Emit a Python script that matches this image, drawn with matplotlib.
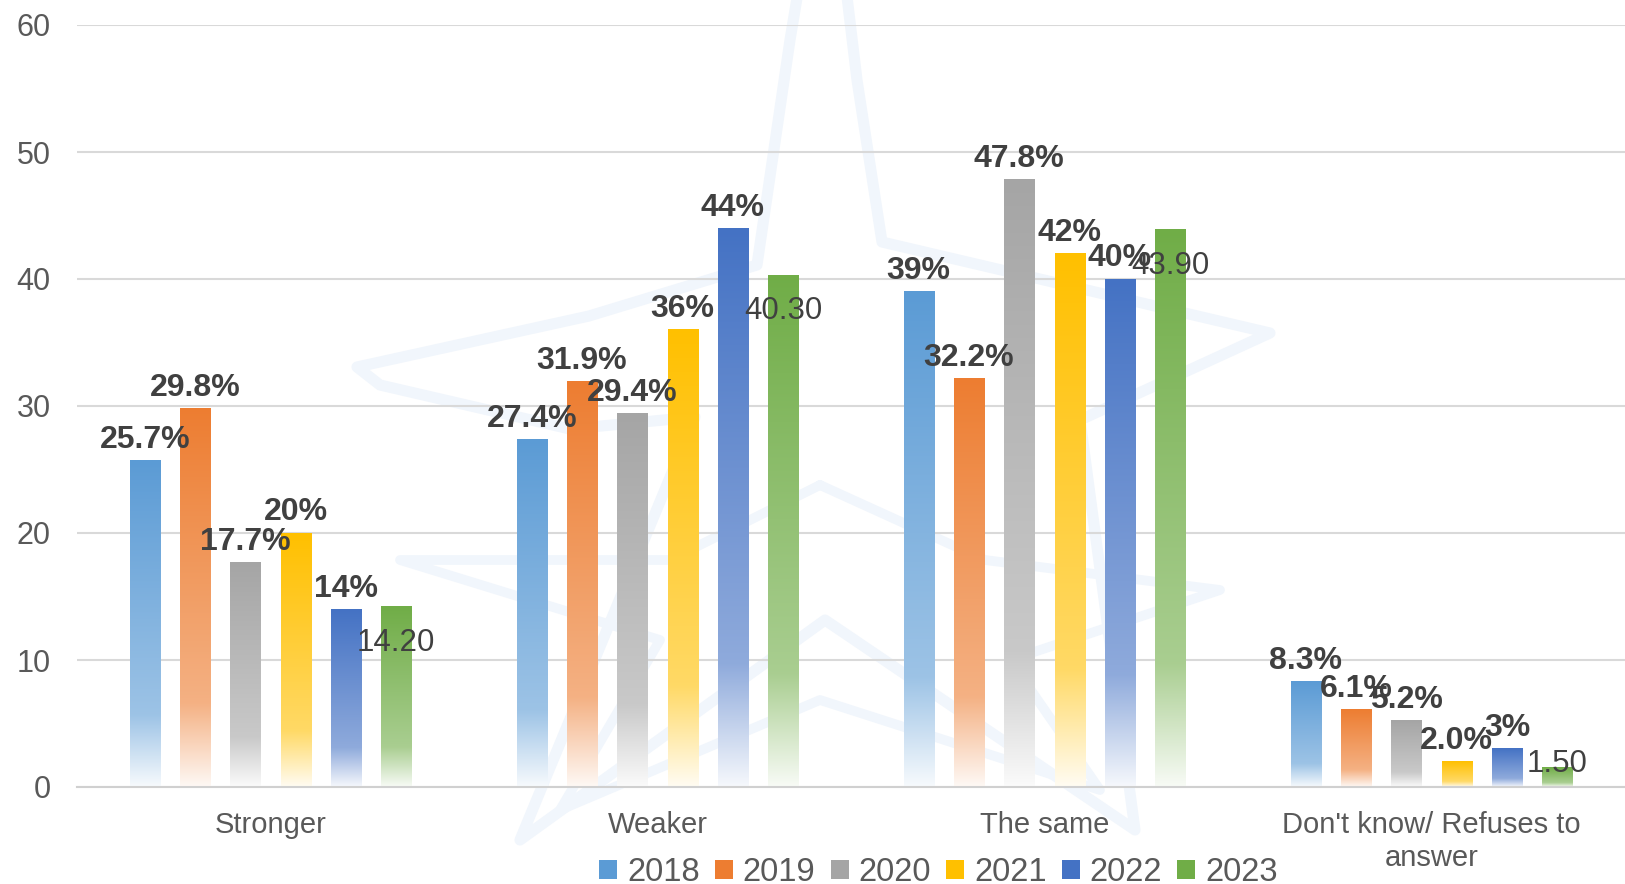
import numpy as np
import matplotlib
matplotlib.use('Agg')
from matplotlib import pyplot as plt
from matplotlib.colors import to_rgb
from matplotlib.patches import Patch

plt.rcParams['font.family'] = ['Liberation Sans', 'DejaVu Sans']

categories = ['Stronger', 'Weaker', 'The same', "Don't know/ Refuses to\nanswer"]
years = ['2018', '2019', '2020', '2021', '2022', '2023']
values = {
    '2018': [25.7, 27.4, 39.0, 8.3],
    '2019': [29.8, 31.9, 32.2, 6.1],
    '2020': [17.7, 29.4, 47.8, 5.2],
    '2021': [20.0, 36.0, 42.0, 2.0],
    '2022': [14.0, 44.0, 40.0, 3.0],
    '2023': [14.2, 40.3, 43.9, 1.5],
}
labels = {
    '2018': ['25.7%', '27.4%', '39%', '8.3%'],
    '2019': ['29.8%', '31.9%', '32.2%', '6.1%'],
    '2020': ['17.7%', '29.4%', '47.8%', '5.2%'],
    '2021': ['20%', '36%', '42%', '2.0%'],
    '2022': ['14%', '44%', '40%', '3%'],
    '2023': ['14.20', '40.30', '43.90', '1.50'],
}
colors = ['#5B9BD5', '#ED7D31', '#A5A5A5', '#FFC000', '#4472C4', '#70AD47']


def gradient(color, n=256):
    # t = 0 at top of bar, 1 at bottom
    t = 1 - np.linspace(0, 1, n)
    w = np.where(t < 0.78, 0.4 * t / 0.78, 0.4 + 0.55 * (t - 0.78) / 0.22)
    c = np.array(to_rgb(color))
    img = c[None, :] * (1 - w[:, None]) + w[:, None]
    return img[:, None, :]


fig = plt.figure(figsize=(16.25, 8.84), dpi=100)

# faint hand-drawn star watermark behind the chart
star_x = [800, 790, 757, 589, 357, 380, 570, 695, 520, 825, 1135, 1080, 1270, 882, 857, 845]
star_y = [-20, 40, 265, 316, 367, 385, 429, 417, 840, 620, 830, 420, 333, 242, 80, -20]
fig.add_artist(plt.Line2D(np.array(star_x) / 1625, 1 - np.array(star_y) / 884,
                          color='#F1F6FC', lw=8, solid_joinstyle='round',
                          solid_capstyle='round', zorder=0))
inner_x = [820, 985, 1220, 1010, 1100, 820, 560, 660, 400, 670, 820]
inner_y = [485, 560, 590, 660, 790, 700, 810, 640, 560, 560, 485]
fig.add_artist(plt.Line2D(np.array(inner_x) / 1625, 1 - np.array(inner_y) / 884,
                          color='#F1F6FC', lw=7, solid_joinstyle='round',
                          solid_capstyle='round', zorder=0))

ax = fig.add_axes([77 / 1625, 97 / 884, 1548 / 1625, 762 / 884])
ax.patch.set_alpha(0)

x = np.arange(len(categories))
width = 0.078
step = 0.130

for i, (yr, col) in enumerate(zip(years, colors)):
    pos = x + (i - 2.5) * step
    bars = ax.bar(pos, values[yr], width, color='none', edgecolor='none')
    grad = gradient(col)
    for b, lab in zip(bars, labels[yr]):
        x0, h = b.get_x(), b.get_height()
        ax.imshow(grad, extent=(x0, x0 + b.get_width(), 0, h), origin='lower',
                  aspect='auto', zorder=2, interpolation='bilinear')
        cx = x0 + b.get_width() / 2
        if yr == '2023':
            if h < 5:
                ax.annotate(lab, (cx, h), xytext=(0, -3), textcoords='offset points',
                            ha='center', va='baseline', fontsize=22.5, color='#404040', zorder=4)
            else:
                ax.annotate(lab, (cx, h), xytext=(0, -26), textcoords='offset points',
                            ha='center', va='center', fontsize=22.5, color='#404040', zorder=4)
        else:
            ax.annotate(lab, (cx, h), xytext=(0, 9), textcoords='offset points',
                        ha='center', va='baseline', fontsize=23, fontweight='bold',
                        color='#404040', zorder=4)

ax.set_xlim(-0.5, 3.5)
ax.set_ylim(0, 60)
ax.set_yticks(range(0, 61, 10))
ax.set_xticks(x)
ax.set_xticklabels(categories, fontsize=21, color='#595959', linespacing=1.25)
ax.tick_params(axis='y', labelsize=22, labelcolor='#595959', length=0, pad=19)
ax.tick_params(axis='x', length=0, pad=17)
ax.grid(axis='y', color='#D9D9D9', lw=1.5, zorder=0)
ax.set_axisbelow(True)
for s in ['top', 'right', 'left']:
    ax.spines[s].set_visible(False)
ax.spines['bottom'].set_color('#D0D0D0')
ax.spines['bottom'].set_linewidth(1.5)

handles = [Patch(facecolor=c, edgecolor='none', label=y) for y, c in zip(years, colors)]
fig.legend(handles=handles, loc='center', bbox_to_anchor=(0.5775, 0.013), ncol=6,
           frameon=False, fontsize=23.5, labelcolor='#595959', handlelength=0.55,
           handleheight=0.55, handletextpad=0.3, columnspacing=0.47, borderpad=0)

fig.savefig('out.png', dpi=100)
